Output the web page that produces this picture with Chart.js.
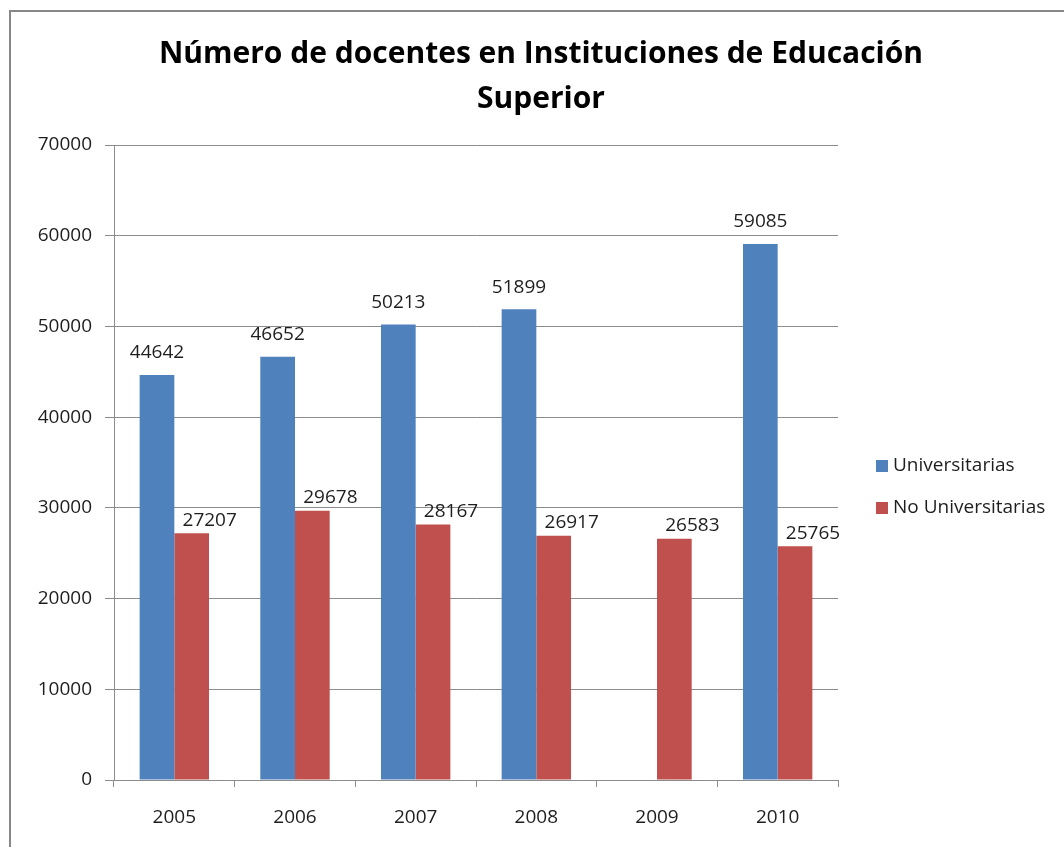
<!DOCTYPE html>
<html>
<head>
<meta charset="utf-8">
<script src="https://cdn.jsdelivr.net/npm/chart.js@4"></script>
<style>
  html, body { margin: 0; padding: 0; background: #fff; }
  #wrap { width: 1064px; height: 847px; }
</style>
</head>
<body>
<div id="wrap"><canvas id="chart" width="1064" height="847"></canvas></div>
<script>
// data uit de grafiek
const years = ['2005', '2006', '2007', '2008', '2009', '2010'];
const universitarias = [44642, 46652, 50213, 51899, null, 59085];
const noUniversitarias = [27207, 29678, 28167, 26917, 26583, 25765];
const seriesNames = ['Universitarias', 'No Universitarias'];
const titleLines = ['Número de docentes en Instituciones de Educación', 'Superior'];
const yMax = 70000;
const yStep = 10000;

const blue = '#4F81BD';
const red = '#C0504D';
const gridGray = '#8c8c8c';
const fontName = "'Open Sans', 'Liberation Sans', sans-serif";

// grijze rand om de grafiek
const framePlugin = {
  id: 'frame',
  beforeDraw(chart) {
    const ctx = chart.ctx;
    ctx.save();
    ctx.fillStyle = '#fff';
    ctx.fillRect(0, 0, chart.width, chart.height);
    ctx.strokeStyle = '#878787';
    ctx.lineWidth = 2;
    ctx.strokeRect(10, 11, chart.width + 20, chart.height + 20);
    ctx.restore();
  }
};

// titel midden boven de hele grafiek
const titlePlugin = {
  id: 'bigTitle',
  afterDraw(chart, args, opts) {
    const ctx = chart.ctx;
    ctx.save();
    ctx.font = 'bold 30px ' + fontName;
    ctx.fillStyle = '#000';
    ctx.textAlign = 'center';
    ctx.textBaseline = 'middle';
    opts.lines.forEach((line, i) => {
      ctx.fillText(line, opts.x, opts.y + i * opts.gap);
    });
    ctx.restore();
  }
};

// waarden boven de staven
const valueLabels = {
  id: 'valueLabels',
  afterDatasetsDraw(chart, args, opts) {
    const ctx = chart.ctx;
    ctx.save();
    ctx.font = '19px ' + fontName;
    ctx.fillStyle = '#1e1e1e';
    ctx.textAlign = 'center';
    ctx.textBaseline = 'middle';
    chart.data.datasets.forEach((ds, i) => {
      const meta = chart.getDatasetMeta(i);
      const shift = opts.shifts[i];
      meta.data.forEach((bar, j) => {
        const v = ds.data[j];
        if (v === null || v === undefined) return;
        ctx.fillText(String(v), bar.x + shift[0], bar.y + shift[1]);
      });
    });
    ctx.restore();
  }
};

// legenda rechts
const sideLegend = {
  id: 'sideLegend',
  afterDraw(chart, args, opts) {
    const ctx = chart.ctx;
    ctx.save();
    ctx.font = '19px ' + fontName;
    ctx.textBaseline = 'middle';
    chart.data.datasets.forEach((ds, i) => {
      const y = opts.y + i * opts.gap;
      ctx.fillStyle = ds.backgroundColor;
      ctx.fillRect(opts.x, y - 6, 12, 12);
      ctx.fillStyle = '#1e1e1e';
      ctx.fillText(ds.label, opts.x + 17, y);
    });
    ctx.restore();
  }
};

new Chart(document.getElementById('chart'), {
  type: 'bar',
  data: {
    labels: years,
    datasets: [
      { label: seriesNames[0], data: universitarias, backgroundColor: blue },
      { label: seriesNames[1], data: noUniversitarias, backgroundColor: red }
    ]
  },
  options: {
    responsive: false,
    animation: false,
    layout: { padding: { left: 0, right: 226, top: 145, bottom: 0 } },
    datasets: { bar: { categoryPercentage: 0.575, barPercentage: 1 } },
    scales: {
      x: {
        afterFit(scale) { scale.height = 67; },
        grid: { display: true, drawOnChartArea: false, drawTicks: true, tickLength: 7, color: gridGray, offset: true },
        border: { color: gridGray },
        ticks: { color: '#1e1e1e', font: { family: fontName, size: 19 }, padding: 19 }
      },
      y: {
        min: 0,
        max: yMax,
        afterFit(scale) { scale.width = 114; },
        grid: { color: gridGray, tickLength: 9 },
        border: { color: gridGray },
        ticks: {
          stepSize: yStep,
          color: '#1e1e1e',
          font: { family: fontName, size: 19 },
          padding: 13,
          callback: v => String(v)
        }
      }
    },
    plugins: {
      legend: { display: false },
      tooltip: { enabled: false },
      title: { display: false },
      bigTitle: { lines: titleLines, x: 541, y: 54, gap: 45 },
      valueLabels: { shifts: [[0, -22], [18, -13]] },
      sideLegend: { x: 876, y: 466, gap: 42 }
    }
  },
  plugins: [framePlugin, valueLabels, sideLegend, titlePlugin]
});
</script>
</body>
</html>
